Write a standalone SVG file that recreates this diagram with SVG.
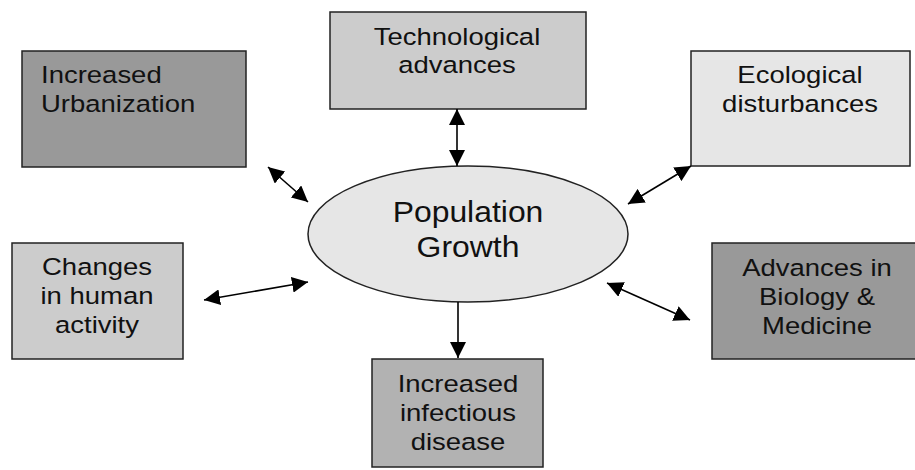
<svg xmlns="http://www.w3.org/2000/svg" width="915" height="470" viewBox="0 0 915 470">
<style>
.box{stroke:#222;stroke-width:1.5}
.t{font-family:"Liberation Sans",Arial,Helvetica,sans-serif;font-size:23.5px;fill:#111;text-anchor:middle}
.tl{text-anchor:start}
.big{font-size:29px}
.c{stroke:#000;stroke-width:1.6;fill:none}
</style>
<defs>
<marker id="ah" viewBox="0 0 16 16" refX="16" refY="8" markerWidth="16" markerHeight="16" markerUnits="userSpaceOnUse" orient="auto-start-reverse">
<path d="M0,0 L16,8 L0,16 z" fill="#000"/>
</marker>
</defs>
<rect width="915" height="470" fill="#fff"/>
<g id="urbanization">
<rect class="box" x="22" y="51" width="224" height="116" fill="#999"/>
<g transform="translate(41 0) scale(1.17 1)"><text class="t tl" x="0" y="83">Increased</text><text class="t tl" x="0" y="112">Urbanization</text></g>
</g>
<g id="technological">
<rect class="box" x="330" y="12" width="256" height="97" fill="#ccc"/>
<g transform="translate(457 0) scale(1.17 1)"><text class="t" x="0" y="45">Technological</text><text class="t" x="0" y="73">advances</text></g>
</g>
<g id="ecological">
<rect class="box" x="691" y="51" width="219" height="115" fill="#e6e6e6"/>
<g transform="translate(800 0) scale(1.17 1)"><text class="t" x="0" y="83">Ecological</text><text class="t" x="0" y="112">disturbances</text></g>
</g>
<g id="population">
<ellipse class="box" cx="468" cy="234" rx="160" ry="68" fill="#e6e6e6"/>
<g transform="translate(468 0) scale(1.1 1)"><text class="t big" x="0" y="222">Population</text><text class="t big" x="0" y="257">Growth</text></g>
</g>
<g id="changes">
<rect class="box" x="12" y="243" width="171" height="116" fill="#ccc"/>
<g transform="translate(97 0) scale(1.17 1)"><text class="t" x="0" y="275">Changes</text><text class="t" x="0" y="304">in human</text><text class="t" x="0" y="333">activity</text></g>
</g>
<g id="biology">
<rect class="box" x="712" y="243" width="205" height="116" fill="#999"/>
<g transform="translate(817 0) scale(1.17 1)"><text class="t" x="0" y="276">Advances in</text><text class="t" x="0" y="305">Biology &amp;</text><text class="t" x="0" y="334">Medicine</text></g>
</g>
<g id="infectious">
<rect class="box" x="372" y="359" width="171" height="108" fill="#b2b2b2"/>
<g transform="translate(458 0) scale(1.17 1)"><text class="t" x="0" y="392">Increased</text><text class="t" x="0" y="421">infectious</text><text class="t" x="0" y="450">disease</text></g>
</g>
<g id="connectors">
<line class="c" x1="268" y1="167" x2="308" y2="202" marker-start="url(#ah)" marker-end="url(#ah)"/>
<line class="c" x1="457" y1="109" x2="457" y2="166" marker-start="url(#ah)" marker-end="url(#ah)"/>
<line class="c" x1="691" y1="166" x2="628" y2="204" marker-start="url(#ah)" marker-end="url(#ah)"/>
<line class="c" x1="204" y1="300" x2="308" y2="282" marker-start="url(#ah)" marker-end="url(#ah)"/>
<line class="c" x1="607" y1="283" x2="690" y2="320" marker-start="url(#ah)" marker-end="url(#ah)"/>
<line class="c" x1="458" y1="302" x2="458" y2="358" marker-end="url(#ah)"/>
</g>
</svg>
